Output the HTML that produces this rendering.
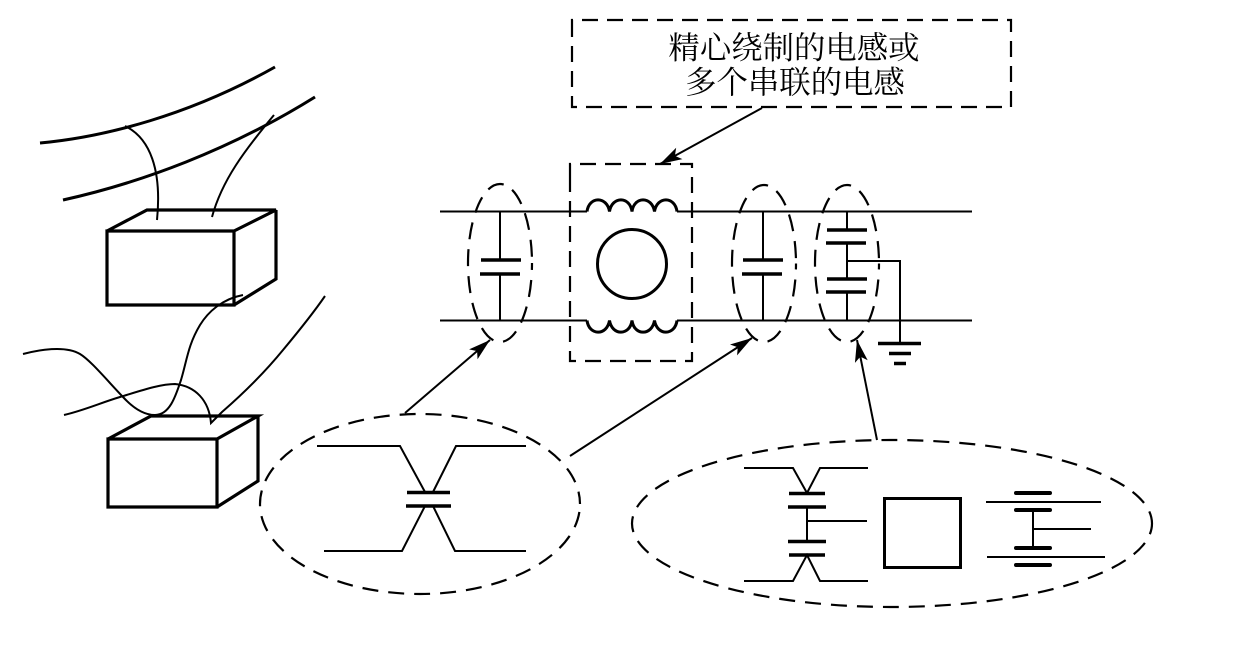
<!DOCTYPE html>
<html lang="zh">
<head>
<meta charset="utf-8">
<style>
html,body{margin:0;padding:0;background:#fff;width:1260px;height:648px;overflow:hidden}
svg{display:block}
text{font-family:"Liberation Serif","Noto Serif CJK SC",serif;font-size:31.4px;fill:#000;text-anchor:middle}
</style>
</head>
<body>
<svg width="1260" height="648" viewBox="0 0 1260 648" xmlns="http://www.w3.org/2000/svg">
<defs>
<marker id="a" markerUnits="userSpaceOnUse" markerWidth="30" markerHeight="18" refX="26" refY="9" orient="auto">
<path d="M26,9 L4,2.500 L9,9 L4,15.500 Z" fill="#000"/>
</marker>
</defs>
<g fill="none" stroke="#000" stroke-width="2">
<!-- upper left wires -->
<path d="M40,143 C105,137 190,115 275,67" stroke-width="3"/>
<path d="M63,200 C140,183 230,150 315,97" stroke-width="3"/>
<path d="M125,126 C150,138 162,170 157,220"/>
<path d="M274,115 C245,150 222,180 212,217"/>
<!-- boxes -->
<g stroke-width="3.2">
<path d="M107,231 H234 V305 H107 Z M107,231 L147,210 H276 L234,231 M276,210 V279 L234,305"/>
<path d="M108,439 H217 V507 H108 Z M108,439 L151,416 H258 L217,439 M258,416 V481 L217,507"/>
</g>
<!-- lower left wires -->
<path d="M23,354 C38,350 65,345 80,354 C90,360 105,378 123,397 C135,410 145,415 155,415 C170,415 176,395 181,380 C187,360 188,345 200,325 C208,312 222,299 243,295"/>
<path d="M64,415 C85,410 100,403 120,397 C140,391 160,384 175,384 C195,386 209,400 211,423 L222,412 C245,392 265,372 283,350 C298,332 312,315 325,296"/>
<!-- main lines -->
<path d="M440,211.500 H587 M677,211.500 H972 M440,320.500 H587 M677,320.500 H972"/>
<!-- coils -->
<path stroke-width="3" d="M587,211.500 C589,196 607,196 609.500,211.500 C612,196 630,196 632,211.500 C634,196 652,196 654.500,211.500 C657,196 675,196 677,211.500"/>
<path stroke-width="3" d="M587,320.500 C589,336 607,336 609.500,320.500 C612,336 630,336 632,320.500 C634,336 652,336 654.500,320.500 C657,336 675,336 677,320.500"/>
<circle cx="632" cy="264" r="34.500" stroke-width="3"/>
<!-- dashed -->
<g stroke-width="2.200">
<path stroke-dasharray="16 9" d="M570,179 V164 H692 V361 H570 V179"/>
<path stroke-dasharray="16 9" d="M572,35 V20 H1011 V107 H572 V35"/>
<ellipse stroke-dasharray="17 10" stroke-dashoffset="10" cx="500" cy="263" rx="32" ry="79"/>
<ellipse stroke-dasharray="17 10" stroke-dashoffset="11" cx="764" cy="263.500" rx="32" ry="78.500"/>
<ellipse stroke-dasharray="17 10" stroke-dashoffset="11" cx="847" cy="263.500" rx="32" ry="78.500"/>
<ellipse stroke-dasharray="16 10" stroke-dashoffset="18" cx="420" cy="504" rx="160" ry="90"/>
<ellipse stroke-dasharray="16 10" stroke-dashoffset="5" cx="892" cy="523.500" rx="260" ry="83.500"/>
</g>
<!-- capacitors -->
<path d="M500,211.500 V260 M500,274 V320.500"/>
<path d="M763,211.500 V260 M763,274 V320.500"/>
<path d="M847,211.500 V230 M847,243 V279 M847,292 V320.500 M847,261 H900 V343"/>
<g stroke-width="3.500">
<path d="M481,260 H521 M480,274 H520"/>
<path d="M743,260 H783 M742,274 H782"/>
<path d="M827,230 H867 M826,243 H866 M827,279 H867 M826,292 H866"/>
<path d="M878,343.500 H921 M889,353.500 H911 M894,363.500 H906"/>
<path d="M407,492.500 H450 M406,506 H451"/>
<path d="M789,493.500 H825 M788,507 H826 M788,541.500 H826 M789,555 H825"/>
</g>
<g stroke-width="4" stroke-linecap="round">
<path d="M1016,493 H1050 M1016,510 H1050 M1016,548 H1050 M1016,565 H1050"/>
</g>
<!-- left symbol -->
<path d="M317,446 H400 L425,492 M526,446 H456 L433,492 M324,551 H402 L425,506 M526,551 H455 L433,506"/>
<!-- right symbols -->
<path d="M744,468 H793 L807,493 L820,468 H868 M744,581 H793 L807,555 L820,581 H868 M807,507 V541 M807,521 H867"/>
<rect x="884.500" y="498.500" width="76" height="69" stroke-width="3"/>
<path d="M986,502 H1101 M987,557 H1105 M1033,510 V548 M1033,529 H1091"/>
<!-- arrows -->
<line x1="762" y1="108" x2="660" y2="164" marker-end="url(#a)"/>
<line x1="405" y1="413" x2="490" y2="340" marker-end="url(#a)"/>
<line x1="570" y1="456" x2="752" y2="338" marker-end="url(#a)"/>
<line x1="877" y1="440" x2="857" y2="340" marker-end="url(#a)"/>
</g>
<text x="794" y="58.500">精心绕制的电感或</text>
<text x="795" y="93">多个串联的电感</text>
</svg>
</body>
</html>
